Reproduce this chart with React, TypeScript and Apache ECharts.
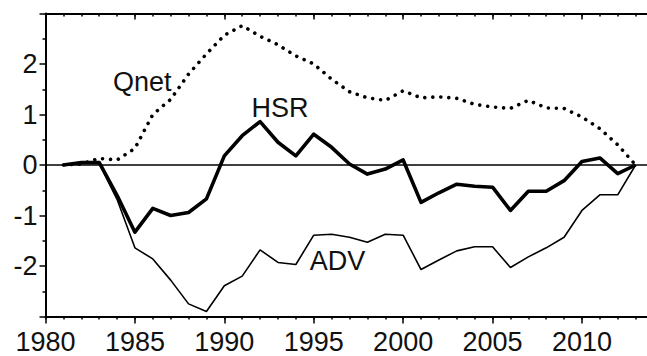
import React, { useEffect, useRef } from "react";
import * as echarts from "echarts";

const years = [
  1981, 1982, 1983, 1984, 1985, 1986, 1987, 1988, 1989, 1990, 1991, 1992, 1993, 1994, 1995, 1996, 1997,
  1998, 1999, 2000, 2001, 2002, 2003, 2004, 2005, 2006, 2007, 2008, 2009, 2010, 2011, 2012, 2013,
];

const hsr = [
  0, 0.05, 0.05, -0.6, -1.33, -0.86, -1.0, -0.94, -0.67, 0.18, 0.58, 0.86, 0.45, 0.18, 0.61, 0.35, 0.02,
  -0.18, -0.08, 0.1, -0.74, -0.55, -0.38, -0.42, -0.44, -0.9, -0.52, -0.52, -0.31, 0.07, 0.14, -0.17, 0.0,
];

const adv = [
  0, 0.03, 0.03, -0.68, -1.64, -1.86, -2.28, -2.75, -2.9, -2.39, -2.2, -1.68, -1.93, -1.97, -1.39, -1.37,
  -1.43, -1.53, -1.37, -1.39, -2.07, -1.88, -1.7, -1.62, -1.62, -2.03, -1.82, -1.64, -1.43, -0.9, -0.59,
  -0.59, 0.0,
];

const qnet = [
  0, 0.02, 0.13, 0.1, 0.33, 1.0, 1.3, 1.8, 2.2, 2.57, 2.76, 2.55, 2.38, 2.16, 2.0, 1.7, 1.45, 1.33, 1.28,
  1.47, 1.33, 1.35, 1.32, 1.2, 1.15, 1.12, 1.28, 1.13, 1.12, 0.95, 0.72, 0.4, 0.0,
];

const xMin = 1980;
const xMax = 2014;
const yMin = -3;
const yMax = 3;

const FONT = "Liberation Sans, Arial, Helvetica, sans-serif";

export default function App() {
  const ref = useRef<HTMLDivElement>(null);

  useEffect(() => {
    if (!ref.current) return;
    const chart = echarts.init(ref.current, undefined, { renderer: "svg" });
    const pair = (arr: number[]) => years.map((y, i) => [y, arr[i]]);
    const axisCommon = {
      type: "value" as const,
      min: xMin,
      max: xMax,
      splitLine: { show: false },
      gridIndex: 0,
    };
    chart.setOption({
      animation: false,
      backgroundColor: "#ffffff",
      grid: {
        left: 45.5,
        top: 13.5,
        width: 608,
        height: 303,
        containLabel: false,
        outerBoundsMode: "none",
      },
      xAxis: [
        {
          ...axisCommon,
          position: "bottom",
          interval: 1,
          axisLine: { show: true, onZero: false, lineStyle: { color: "#000", width: 2 } },
          axisTick: { show: true, inside: false, length: 3, lineStyle: { color: "#000", width: 1.5 } },
          axisLabel: { show: false },
        },
        {
          ...axisCommon,
          position: "bottom",
          interval: 5,
          axisLine: { show: false, onZero: false },
          axisTick: { show: true, inside: false, length: 7, lineStyle: { color: "#000", width: 1.5 } },
          axisLabel: {
            show: true,
            margin: 12,
            fontSize: 27,
            fontFamily: FONT,
            color: "#111",
            formatter: (v: number) => (v % 5 === 0 && v <= 2010 ? String(v) : ""),
          },
        },
        {
          ...axisCommon,
          position: "top",
          interval: 1,
          axisLine: { show: true, onZero: false, lineStyle: { color: "#000", width: 2 } },
          axisTick: { show: true, inside: true, length: 3, lineStyle: { color: "#000", width: 1.5 } },
          axisLabel: { show: false },
        },
        {
          ...axisCommon,
          position: "top",
          interval: 5,
          axisLine: { show: false, onZero: false },
          axisTick: { show: true, inside: true, length: 6, lineStyle: { color: "#000", width: 1.5 } },
          axisLabel: { show: false },
        },
      ],
      yAxis: [
        {
          type: "value",
          min: yMin,
          max: yMax,
          interval: 1,
          position: "left",
          splitLine: { show: false },
          axisLine: { show: true, onZero: false, lineStyle: { color: "#000", width: 2 } },
          axisTick: { show: true, inside: false, length: 6, lineStyle: { color: "#000", width: 1.5 } },
          minorTick: { show: true, splitNumber: 2, length: 3, lineStyle: { color: "#000", width: 1.5 } },
          minorSplitLine: { show: false },
          axisLabel: {
            show: true,
            margin: 8,
            fontSize: 27,
            fontFamily: FONT,
            color: "#111",
            formatter: (v: number) => (Math.abs(v) >= 3 ? "" : String(v)),
          },
        },
        {
          type: "value",
          min: yMin,
          max: yMax,
          interval: 1,
          position: "right",
          splitLine: { show: false },
          axisLine: { show: true, onZero: false, lineStyle: { color: "#000", width: 2 } },
          axisTick: { show: true, inside: true, length: 6, lineStyle: { color: "#000", width: 1.5 } },
          minorTick: { show: true, splitNumber: 2, length: 3, lineStyle: { color: "#000", width: 1.5 } },
          axisLabel: { show: false },
        },
      ],
      series: [
        {
          name: "Qnet",
          type: "line",
          xAxisIndex: 0,
          yAxisIndex: 0,
          data: pair(qnet),
          showSymbol: false,
          symbol: "none",
          lineStyle: { color: "#000", width: 3.6, type: [0.01, 8], cap: "round" },
          z: 3,
        },
        {
          name: "ADV",
          type: "line",
          xAxisIndex: 0,
          yAxisIndex: 0,
          data: pair(adv),
          showSymbol: false,
          symbol: "none",
          lineStyle: { color: "#000", width: 1.6 },
          z: 3,
        },
        {
          name: "HSR",
          type: "line",
          xAxisIndex: 0,
          yAxisIndex: 0,
          data: pair(hsr),
          showSymbol: false,
          symbol: "none",
          lineStyle: { color: "#000", width: 3.6, join: "round" },
          z: 4,
          markLine: {
            silent: true,
            symbol: ["none", "none"],
            label: { show: false },
            lineStyle: { color: "#000", width: 1.5, type: "solid" },
            data: [{ yAxis: 0 }],
          },
        },
      ],
      graphic: [
        {
          type: "text",
          x: 113,
          y: 82,
          style: { text: "Qnet", fontSize: 27, fontFamily: FONT, fill: "#111", align: "left", verticalAlign: "middle" },
        },
        {
          type: "text",
          x: 280,
          y: 108,
          style: { text: "HSR", fontSize: 27, fontFamily: FONT, fill: "#111", align: "center", verticalAlign: "middle" },
        },
        {
          type: "text",
          x: 337.5,
          y: 261,
          style: { text: "ADV", fontSize: 27, fontFamily: FONT, fill: "#111", align: "center", verticalAlign: "middle" },
        },
      ],
    });
    return () => chart.dispose();
  }, []);

  return (
    <div style={{ position: "fixed", left: 0, top: 0, width: 647, height: 356, overflow: "hidden", background: "#fff" }}>
      <div ref={ref} style={{ width: 670, height: 356 }} />
    </div>
  );
}
